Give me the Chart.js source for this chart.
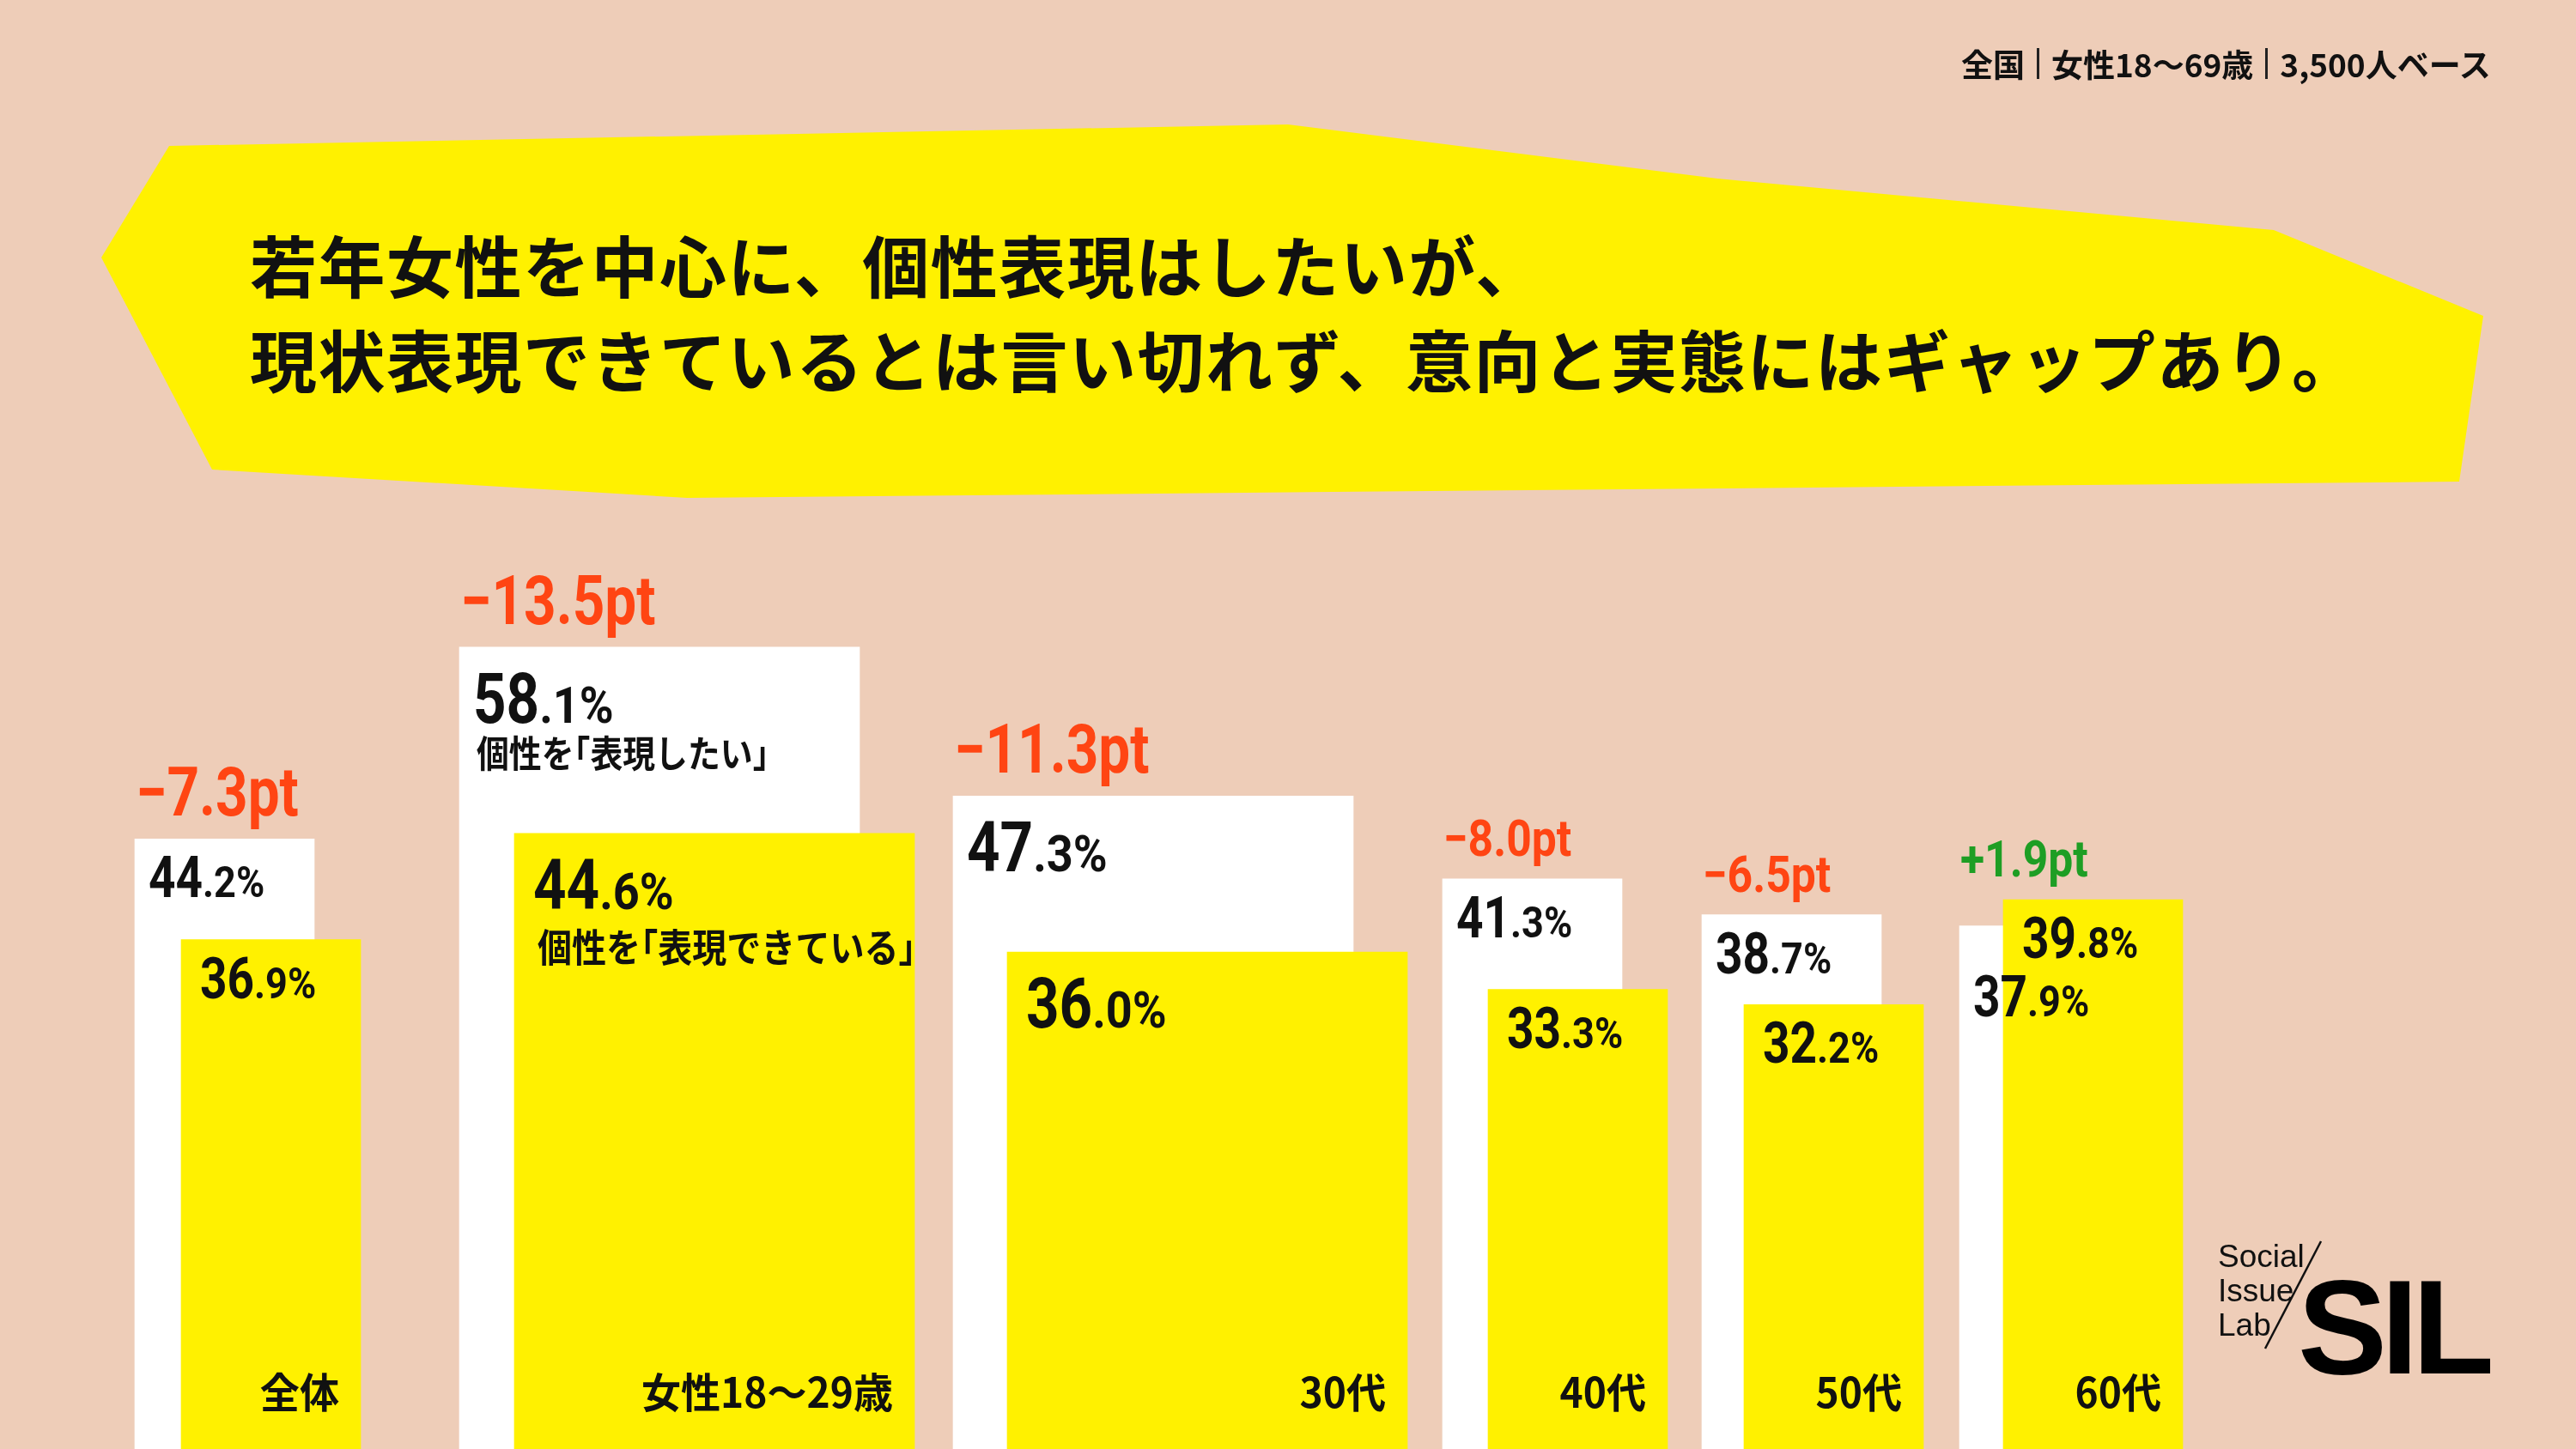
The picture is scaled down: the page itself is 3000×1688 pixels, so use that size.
<!DOCTYPE html>
<html lang="ja">
<head>
<meta charset="utf-8">
<script src="https://cdn.jsdelivr.net/npm/chart.js@4.4.1/dist/chart.umd.min.js"></script>
<style>
  html, body { margin: 0; padding: 0; background: #EECDB8; }
  #wrap { position: relative; width: 3000px; height: 1688px; overflow: hidden; background: #EECDB8; }
  #deco { position: absolute; left: 0; top: 0; }
  #c { position: absolute; left: 0; top: 0; }
  .title { position: absolute; left: 291px; font-family: 'Noto Sans CJK JP', sans-serif; font-weight: 700;
           font-size: 78px; line-height: 1; letter-spacing: 1.5px; color: #111; white-space: nowrap; }
  #header { position: absolute; left: 2284px; top: 52px; height: 44px; display: flex; align-items: center;
            font-family: 'Noto Sans CJK JP', sans-serif; font-weight: 700; font-size: 37px; color: #111; white-space: nowrap; }
  #header .sep { display: inline-block; width: 3px; height: 36px; background: #222; margin: 0 14px; }
  .logo-s { position: absolute; left: 2583px; font-family: 'Liberation Sans', Arial, sans-serif; font-size: 37px;
            line-height: 40px; color: #111; }
  #sil { position: absolute; left: 2676px; top: 1468px; font-family: 'Liberation Sans', Arial, sans-serif;
         font-weight: 700; font-size: 156px; line-height: 1; letter-spacing: -7px; color: #000; }
</style>
</head>
<body>
<div id="wrap">
  <svg id="deco" width="3000" height="1688">
    <polygon points="197,170 1500,145 2000,208 2648,268 2892,368 2864,561 800,580 247,547 118,300" fill="#FFF100"/>
    <line x1="2703" y1="1446" x2="2638" y2="1571" stroke="#111" stroke-width="2.5"/>
  </svg>
  <div class="title" id="t1" style="top:268px"></div>
  <div class="title" id="t2" style="top:378px"></div>
  <canvas id="c" width="3000" height="1688"></canvas>
  <div id="header"></div>
  <div class="logo-s" style="top:1444px">Social</div>
  <div class="logo-s" style="top:1484px">Issue</div>
  <div class="logo-s" style="top:1524px">Lab</div>
  <div id="sil">SIL</div>
</div>
<script>
// ---------- data ----------
const categories  = ['全体', '女性18〜29歳', '30代', '40代', '50代', '60代'];
const wantValues  = [44.2, 58.1, 47.3, 41.3, 38.7, 37.9];   // 個性を「表現したい」
const canValues   = [36.9, 44.6, 36.0, 33.3, 32.2, 39.8];   // 個性を「表現できている」
const gapLabels   = ['−7.3pt', '−13.5pt', '−11.3pt', '−8.0pt', '−6.5pt', '+1.9pt'];
const seriesNames = ['個性を「表現したい」', '個性を「表現できている」'];
const headerParts = ['全国', '女性18〜69歳', '3,500人ベース'];
const titleLines  = ['若年女性を中心に、個性表現はしたいが、', '現状表現できているとは言い切れず、意向と実態にはギャップあり。'];

// ---------- layout (x-axis units, axis spans 0..3000) ----------
const X_MAX = 3000;
const groupStart  = [157, 535, 1110, 1680, 1982, 2282];
const groupWidth  = [209, 466, 466, 209, 209, 209];
const yellowShift = [54, 64, 63, 53, 49, 51];
const emphasis    = [false, true, true, false, false, false]; // wide groups get bigger value labels
const bigGap      = [true, true, true, false, false, false];

// ---------- styles ----------
const WHITE = '#FFFFFF', YELLOW = '#FFF100', RED = '#FF4513', GREEN = '#1E9E24', INK = '#111111';
const NUM_FONT = 'Roboto, "Liberation Sans", sans-serif';
const JP_FONT = '"Noto Sans CJK JP", sans-serif';

document.getElementById('t1').textContent = titleLines[0];
document.getElementById('t2').textContent = titleLines[1];
const hd = document.getElementById('header');
headerParts.forEach((p, i) => {
  if (i > 0) { const s = document.createElement('span'); s.className = 'sep'; hd.appendChild(s); }
  const t = document.createElement('span'); t.textContent = p; hd.appendChild(t);
});

const datasets = [];
categories.forEach((cat, i) => {
  datasets.push({
    label: seriesNames[1] + ' ' + cat, grp: i, ser: 1,
    data: [{ x: groupStart[i] + yellowShift[i] + groupWidth[i] / 2, y: canValues[i] }],
    backgroundColor: YELLOW, barThickness: groupWidth[i], grouped: false, order: 0, borderWidth: 0
  });
  datasets.push({
    label: seriesNames[0] + ' ' + cat, grp: i, ser: 0,
    data: [{ x: groupStart[i] + groupWidth[i] / 2, y: wantValues[i] }],
    backgroundColor: WHITE, barThickness: groupWidth[i], grouped: false, order: 1, borderWidth: 0
  });
});

function drawText(ctx, text, x, y, font, color, sx, align) {
  ctx.save();
  ctx.font = font;
  const w = ctx.measureText(text).width * sx;
  const x0 = align === 'right' ? x - w : x;
  ctx.translate(x0, y);
  ctx.scale(sx, 1);
  ctx.fillStyle = color;
  ctx.textAlign = 'left';
  ctx.textBaseline = 'alphabetic';
  ctx.fillText(text, 0, 0);
  ctx.restore();
  return w;
}

// Japanese text with proportional brackets (「 」 take half an em)
function drawJP(ctx, text, x, y, size, color, sx) {
  ctx.save();
  ctx.font = `700 ${size}px ${JP_FONT}`;
  ctx.fillStyle = color;
  ctx.textBaseline = 'alphabetic';
  let cx = x;
  for (const ch of text) {
    const adv = ctx.measureText(ch).width * sx;
    let dx = 0, a = adv;
    if (ch === '「') { dx = -adv / 2; a = adv / 2; }
    else if (ch === '」') { a = adv / 2; }
    ctx.save();
    ctx.translate(cx + dx, y);
    ctx.scale(sx, 1);
    ctx.fillText(ch, 0, 0);
    ctx.restore();
    cx += a;
  }
  ctx.restore();
}

function drawValue(ctx, v, x, y, big) {
  const s = v.toFixed(1);
  const dot = s.indexOf('.');
  const head = s.slice(0, dot), tail = s.slice(dot) + '%';
  const bSize = big ? 82 : 67, sSize = big ? 60 : 50;
  const w = drawText(ctx, head, x, y, `700 ${bSize}px ${NUM_FONT}`, INK, 0.82);
  drawText(ctx, tail, x + w, y, `700 ${sSize}px ${NUM_FONT}`, INK, 0.9);
}

const labelPlugin = {
  id: 'labels',
  afterDatasetsDraw(chart) {
    const ctx = chart.ctx;
    const boxes = {};
    chart.data.datasets.forEach((ds, di) => {
      const el = chart.getDatasetMeta(di).data[0];
      boxes[ds.grp] = boxes[ds.grp] || {};
      boxes[ds.grp][ds.ser] = { left: el.x - el.width / 2, right: el.x + el.width / 2, top: el.y };
    });
    categories.forEach((cat, i) => {
      const w = boxes[i][0], y = boxes[i][1];
      const big = emphasis[i];
      const off = big ? 88 : 68;
      const yBase = y.top + off;
      drawValue(ctx, canValues[i], y.left + 22, yBase, big);
      let wBase = w.top + off;
      if (canValues[i] > wantValues[i]) wBase = yBase + 68;
      drawValue(ctx, wantValues[i], w.left + 16, wBase, big);
      if (i === 1) {
        drawJP(ctx, seriesNames[0], w.left + 20, w.top + 140, 43, INK, 0.88);
        drawJP(ctx, seriesNames[1], y.left + 27, y.top + 150, 45, INK, 0.89);
      }
      const diff = canValues[i] - wantValues[i];
      const gBase = Math.min(w.top, y.top) - 27;
      drawText(ctx, gapLabels[i], w.left + 1, gBase, `700 ${bigGap[i] ? 80 : 60}px ${NUM_FONT}`,
               diff < 0 ? RED : GREEN, bigGap[i] ? 0.82 : 0.86);
      drawText(ctx, cat, y.right - 25, 1640, `700 48px ${JP_FONT}`, INK, 0.96, 'right');
    });
  }
};

new Chart(document.getElementById('c'), {
  type: 'bar',
  data: { datasets },
  options: {
    responsive: false,
    devicePixelRatio: 1,
    animation: false,
    layout: { padding: { top: 80, left: 0, right: 0, bottom: 0 } },
    plugins: { legend: { display: false }, tooltip: { enabled: false } },
    scales: {
      x: { type: 'linear', min: 0, max: X_MAX, offset: false, display: false },
      y: { min: 0, max: 100, display: false }
    }
  },
  plugins: [labelPlugin]
});
</script>
</body>
</html>
